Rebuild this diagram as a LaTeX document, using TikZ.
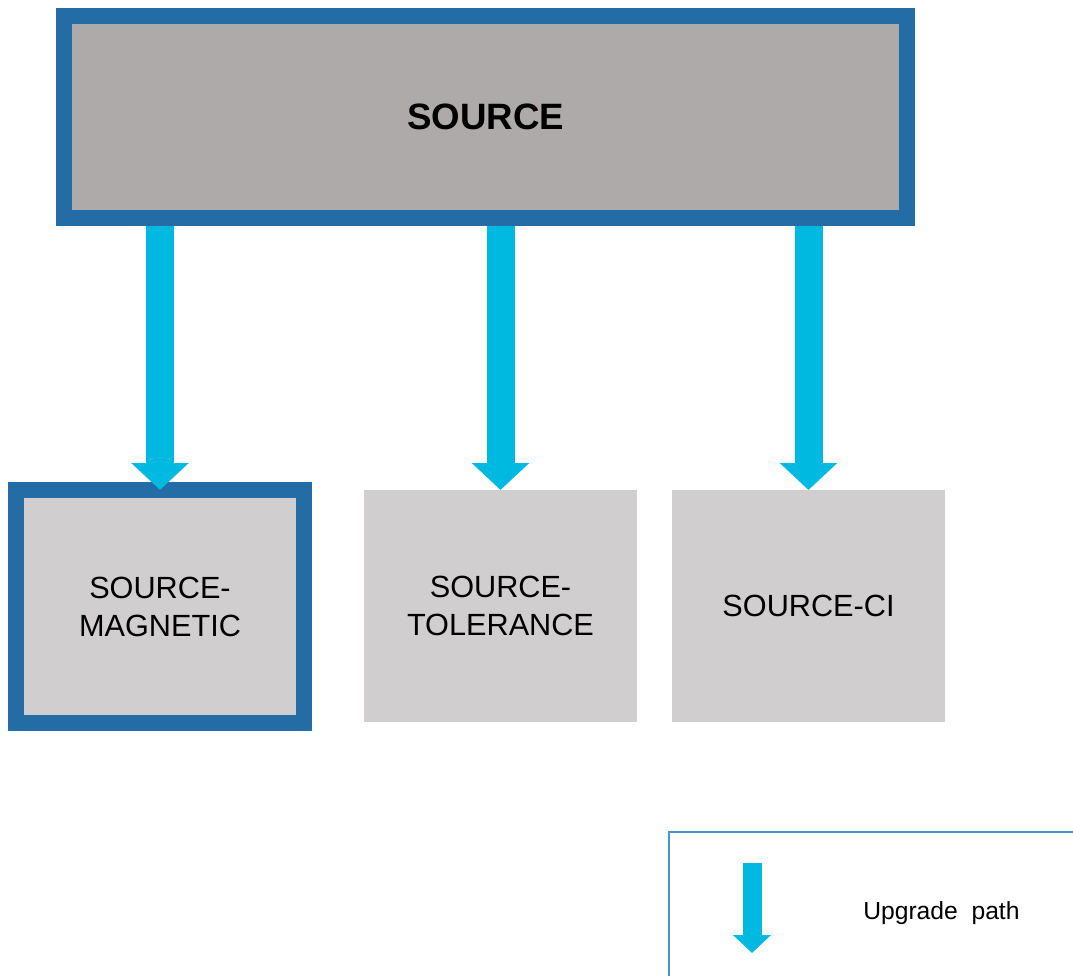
\documentclass[tikz,border=0pt]{standalone}
\usepackage{fontspec}
\setmainfont{Liberation Sans}
\usetikzlibrary{arrows.meta}

\definecolor{srcblue}{HTML}{246CA5}
\definecolor{srcgrey}{HTML}{AEAAA9}
\definecolor{boxgrey}{HTML}{D0CECF}
\definecolor{pathcyan}{HTML}{00B9E0}
\definecolor{keyblue}{HTML}{4A94C8}

\begin{document}
\begin{tikzpicture}[x=0.75pt,y=-0.75pt,
        srcbox/.style={draw=srcblue,line width=12pt,fill=srcgrey,
            minimum width=632.25pt,minimum height=151.5pt,
            font=\fontsize{27.5}{33}\selectfont\bfseries},
        subbox/.style={fill=boxgrey,outer sep=0pt,align=center,
            minimum width=204.75pt,minimum height=174pt,
            font=\fontsize{23}{28.5}\selectfont},
        edgebox/.style={subbox,draw=srcblue,line width=12pt,
            minimum width=216pt,minimum height=174.75pt},
        upgrade/.style={pathcyan,line width=21pt,
            -{Triangle[width=42pt,length=20.25pt]}},
        keyarrow/.style={pathcyan,line width=14.25pt,
            -{Triangle[width=27.75pt,length=13.5pt]}}
    ]
        \useasboundingbox (0,0) rectangle (1073,975);
        \clip (0,0) rectangle (1073,975);

        \node[srcbox] (src) at (485.5,117) {SOURCE};
        \node[edgebox] (mag) at (160,606.5) {SOURCE-\\MAGNETIC};
        \node[subbox] (tol) at (500.5,606) {SOURCE-\\TOLERANCE};
        \node[subbox] (ci) at (808.5,606) {SOURCE-CI};

        \draw[upgrade] (mag.north |- src.south) -- (mag.north);
        \draw[upgrade] (tol.north |- src.south) -- (tol.north);
        \draw[upgrade] (ci.north |- src.south) -- (ci.north);

        % legend
        \draw[keyblue,line width=1.5pt] (669,832) rectangle (1085,990);
        \coordinate (keytop) at (752,863);
        \coordinate (keytip) at (752,953);
        \draw[keyarrow] (keytop) -- (keytip);
        \node[anchor=base west,inner sep=0pt,font=\fontsize{18.5}{22}\selectfont]
            (keytext) at (863,919) {Upgrade\ \ path};
\end{tikzpicture}
\end{document}
